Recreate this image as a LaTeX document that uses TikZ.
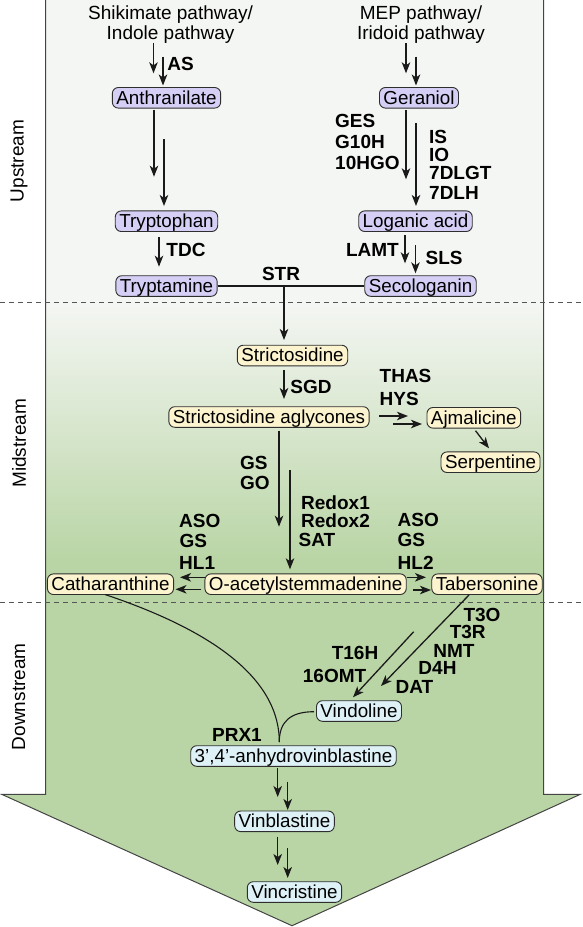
\documentclass[tikz,border=0pt]{standalone}
\usepackage{fontspec}
\setmainfont{Liberation Sans}
\usetikzlibrary{arrows.meta}
\definecolor{upfill}{HTML}{D5CFF5}
\definecolor{midfill}{HTML}{FCF3CF}
\definecolor{downfill}{HTML}{DDF1F7}
\definecolor{bgup}{HTML}{F4F6F3}
\definecolor{bggreen}{HTML}{B9D5A5}
\definecolor{nodeline}{HTML}{2E2E2E}
\definecolor{linec}{HTML}{1A1A1A}
\definecolor{outlinec}{HTML}{444444}
\definecolor{dashc}{HTML}{555555}
\begin{document}
\begin{tikzpicture}[x=1pt,y=-1pt,
 cmp/.style={draw=nodeline, line width=0.9pt, rounded corners=6pt, inner xsep=4pt, inner ysep=1.5pt, text height=15.1pt, text depth=2.5pt, font=\fontsize{18.8}{22}\selectfont},
 up/.style={cmp, fill=upfill},
 mid/.style={cmp, fill=midfill},
 down/.style={cmp, fill=downfill},
 enz/.style={font=\fontsize{19}{22}\selectfont\bfseries, inner sep=0pt},
 plain/.style={font=\fontsize{19}{22}\selectfont, inner sep=0pt},
 arr/.style={-{Stealth[length=11pt,width=8.5pt,inset=3pt]}, line width=1.3pt, draw=linec},
 conn/.style={line width=1.1pt, draw=linec},
 stage/.style={rotate=90, font=\fontsize{19}{22}\selectfont, inner sep=0pt}]
\useasboundingbox (0,0) rectangle (582,927);
% background arrow
\fill[bgup] (45.5,0) rectangle (543.5,302.7);
\shade[top color=bgup, bottom color=bggreen] (45.5,302.7) rectangle (543.5,560);
\fill[bggreen] (45.5,559.5) -- (45.5,794.3) -- (1.7,794.3) -- (292,925.7) -- (580.3,794.3) -- (543.5,794.3) -- (543.5,559.5) -- cycle;
\draw[outlinec, line width=1pt, line join=miter] (45.5,0) -- (45.5,794.3) -- (1.7,794.3) -- (292,925.7) -- (580.3,794.3) -- (543.5,794.3) -- (543.5,0);
\draw[dashc, line width=1pt, dash pattern=on 5pt off 4pt] (0,302.7) -- (582,302.7);
\draw[dashc, line width=1pt, dash pattern=on 5pt off 4pt] (0,602.7) -- (582,602.7);
% stage labels
\node[stage] (lup) at (19,161) {Upstream};
\node[stage] (lmid) at (19,443.3) {Midstream};
\node[stage] (ldown) at (18.6,696.7) {Downstream};
% pathway texts
\node[plain, anchor=base] (sp1) at (170.6,19.2) {Shikimate pathway/};
\node[plain, anchor=base] (sp2) at (170.6,39.5) {Indole pathway};
\node[plain, anchor=base] (mp1) at (421,19.2) {MEP pathway/};
\node[plain, anchor=base] (mp2) at (421,39.5) {Iridoid pathway};
% compound nodes
\node[up] (anth) at (166.5,97.8) {Anthranilate};
\node[up] (trpn) at (166.5,221.2) {Tryptophan};
\node[up] (trpm) at (166.5,286) {Tryptamine};
\node[up] (ger) at (419,97.8) {Geraniol};
\node[up] (log) at (415.5,221.2) {Loganic acid};
\node[up] (sec) at (420.5,286) {Secologanin};
\node[mid] (str) at (292.5,355.5) {Strictosidine};
\node[mid] (agl) at (269,417) {Strictosidine aglycones};
\node[mid] (ajm) at (473.8,417.8) {Ajmalicine};
\node[mid] (ser) at (490.5,462.2) {Serpentine};
\node[mid] (cat) at (110.5,584.2) {Catharanthine};
\node[mid] (oas) at (305.6,584.2) {O-acetylstemmadenine};
\node[mid] (tab) at (487,584.2) {Tabersonine};
\node[down] (vdl) at (359,711) {Vindoline};
\node[down] (anh) at (293.5,756) {3’,4’-anhydrovinblastine};
\node[down] (vbl) at (284.5,821.3) {Vinblastine};
\node[down] (vcr) at (294.5,892) {Vincristine};
% enzyme labels
\node[enz] (eAS) at (180.5,63.5) {AS};
\node[enz] (eTDC) at (186,250) {TDC};
\node[enz, anchor=west] (eGES) at (335,120.7) {GES};
\node[enz, anchor=west] (eG10H) at (335,141.7) {G10H};
\node[enz, anchor=west] (e10HGO) at (335,163.3) {10HGO};
\node[enz, anchor=west] (eIS) at (429,136.7) {IS};
\node[enz, anchor=west] (eIO) at (429,155) {IO};
\node[enz, anchor=west] (e7DLGT) at (429,173.3) {7DLGT};
\node[enz, anchor=west] (e7DLH) at (429,193.3) {7DLH};
\node[enz, anchor=east] (eLAMT) at (399,250) {LAMT};
\node[enz, anchor=west] (eSLS) at (425.5,257.7) {SLS};
\node[enz] (eSTR) at (281,274.3) {STR};
\node[enz] (eSGD) at (311,386.7) {SGD};
\node[enz, anchor=west] (eTHAS) at (379.5,376) {THAS};
\node[enz, anchor=west] (eHYS) at (379.5,399) {HYS};
\node[enz, anchor=west] (eGS) at (240,463.3) {GS};
\node[enz, anchor=west] (eGO) at (240,482.7) {GO};
\node[enz, anchor=west] (eRx1) at (301,502.3) {Redox1};
\node[enz, anchor=west] (eRx2) at (301,521) {Redox2};
\node[enz, anchor=west] (eSAT) at (298.5,540) {SAT};
\node[enz, anchor=west] (eASO1) at (179,521) {ASO};
\node[enz, anchor=west] (eGS1) at (179.5,540.7) {GS};
\node[enz, anchor=west] (eHL1) at (179,563.3) {HL1};
\node[enz, anchor=west] (eASO2) at (397.5,520) {ASO};
\node[enz, anchor=west] (eGS2) at (397.5,540) {GS};
\node[enz, anchor=west] (eHL2) at (397.5,562.7) {HL2};
\node[enz] (eT3O) at (482,615) {T3O};
\node[enz] (eT3R) at (467.7,632.3) {T3R};
\node[enz] (eNMT) at (454,650.7) {NMT};
\node[enz] (eD4H) at (437.5,668.3) {D4H};
\node[enz] (eDAT) at (414.5,687.3) {DAT};
\node[enz] (eT16H) at (355,652.7) {T16H};
\node[enz] (e16OMT) at (334.6,676) {16OMT};
\node[enz] (ePRX) at (237,735) {PRX1};
% free-end coordinates
\coordinate (a1s) at (153.5,43.3); \coordinate (a1e) at (153.5,73.3);
\coordinate (a2s) at (163,56.7); \coordinate (a2e) at (163,85.5);
\coordinate (b1s) at (154,110); \coordinate (b1e) at (154,176.7);
\coordinate (b2s) at (164,139.3); \coordinate (b2e) at (164,206);
\coordinate (cs) at (159,237.3); \coordinate (ce) at (159,266.7);
\coordinate (m1s) at (406,43.3); \coordinate (m1e) at (406,73.3);
\coordinate (m2s) at (416,56.7); \coordinate (m2e) at (416,85.5);
\coordinate (g1s) at (406,110); \coordinate (g1e) at (406,179.3);
\coordinate (g2s) at (416,123.3); \coordinate (g2e) at (416,206);
\coordinate (l1s) at (405,235); \coordinate (l1e) at (405,263.3);
\coordinate (l2s) at (415.5,245); \coordinate (l2e) at (415.5,273.3);
\coordinate (strj) at (284,286); \coordinate (stre) at (284,340);
\coordinate (sgs) at (284,370); \coordinate (sge) at (284,399);
\coordinate (h1s) at (379,416); \coordinate (h1e) at (408,416);
\coordinate (h2s) at (393,424); \coordinate (h2e) at (422,424);
\coordinate (js) at (475.5,430.7); \coordinate (je) at (489,448.3);
\coordinate (o1s) at (279,430.7); \coordinate (o1e) at (279,526.7);
\coordinate (o2s) at (290,470); \coordinate (o2e) at (290,569.3);
\coordinate (k1s) at (205,577.3); \coordinate (k1e) at (180,577.3);
\coordinate (k2s) at (200.6,589.3); \coordinate (k2e) at (175.5,589.3);
\coordinate (t1s) at (407,577.3); \coordinate (t1e) at (426,577.3);
\coordinate (t2s) at (412.5,590); \coordinate (t2e) at (431,590);
\coordinate (v1s) at (469,595); \coordinate (v1e) at (381,686);
\coordinate (v2s) at (413.7,631.7); \coordinate (v2e) at (353,697.3);
\coordinate (cats) at (105,594.5); \coordinate (vdls) at (314,711.7);
\coordinate (junc) at (279.3,742);
\coordinate (p1s) at (277.7,768); \coordinate (p1e) at (277.7,797);
\coordinate (p2s) at (287.7,781.7); \coordinate (p2e) at (287.7,810);
\coordinate (q1s) at (277.7,836.7); \coordinate (q1e) at (277.7,865);
\coordinate (q2s) at (287.7,848); \coordinate (q2e) at (287.7,878);
% connectors
\draw[arr] (a1s) -- (a1e); \draw[arr] (a2s) -- (a2e);
\draw[arr] (b1s) -- (b1e); \draw[arr] (b2s) -- (b2e);
\draw[arr] (cs) -- (ce);
\draw[arr] (m1s) -- (m1e); \draw[arr] (m2s) -- (m2e);
\draw[arr] (g1s) -- (g1e); \draw[arr] (g2s) -- (g2e);
\draw[arr] (l1s) -- (l1e); \draw[arr] (l2s) -- (l2e);
\draw[conn] (trpm.east) -- (sec.west);
\draw[arr] (strj) -- (stre);
\draw[arr] (sgs) -- (sge);
\draw[arr] (h1s) -- (h1e); \draw[arr] (h2s) -- (h2e);
\draw[arr] (js) -- (je);
\draw[arr] (o1s) -- (o1e); \draw[arr] (o2s) -- (o2e);
\draw[arr] (k1s) -- (k1e); \draw[arr] (k2s) -- (k2e);
\draw[arr] (t1s) -- (t1e); \draw[arr] (t2s) -- (t2e);
\draw[arr] (v1s) -- (v1e); \draw[arr] (v2s) -- (v2e);
\draw[conn] (cats) .. controls (205,628) and (279.3,675) .. (junc);
\draw[conn] (vdls) .. controls (290,711.7) and (279.3,722) .. (junc);
\draw[arr] (p1s) -- (p1e); \draw[arr] (p2s) -- (p2e);
\draw[arr] (q1s) -- (q1e); \draw[arr] (q2s) -- (q2e);
\end{tikzpicture}
\end{document}
